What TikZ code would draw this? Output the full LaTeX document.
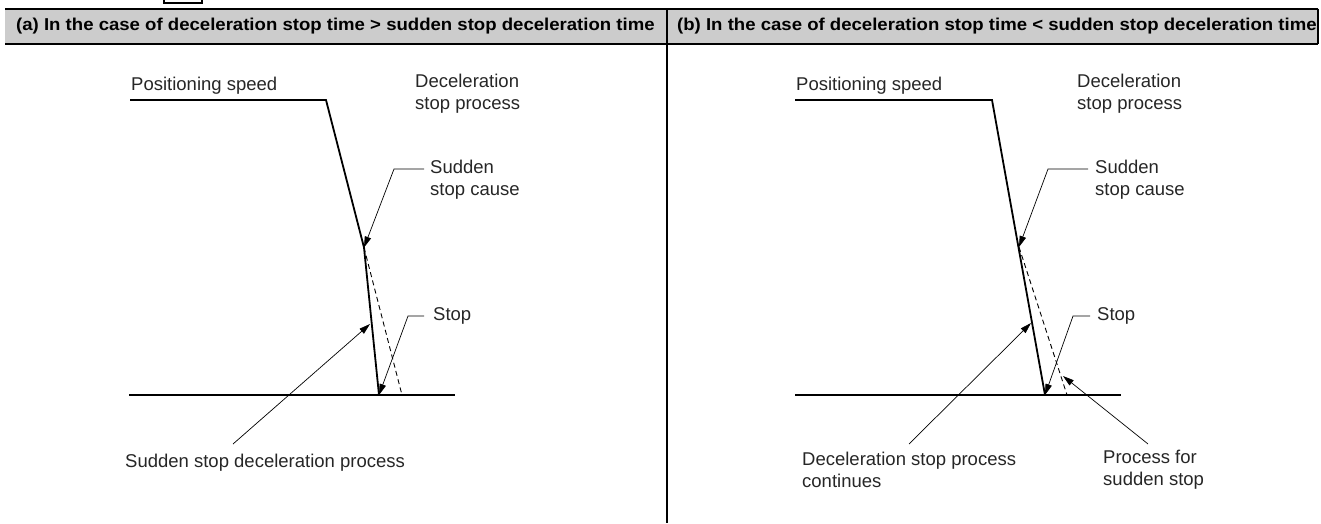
\documentclass[tikz,border=0pt]{standalone}
\usepackage{fontspec}
\setmainfont{Liberation Sans}
\usetikzlibrary{arrows.meta,calc}
\begin{document}
\begin{tikzpicture}[x=1pt,y=-1pt,
  lbl/.style={inner sep=0pt, anchor=west, align=left, text=black!85,
    font=\fontsize{18.5}{22}\selectfont},
  hdr/.style={inner sep=0pt, anchor=west, font=\fontsize{17.2}{20}\selectfont\bfseries},
  curve/.style={line width=1.8pt, line join=miter},
  axis/.style={line width=1.3pt},
  ghost/.style={line width=0.9pt, dash pattern=on 5pt off 3.5pt},
  leader/.style={line width=0.7pt, -{Triangle[length=11pt,width=6.5pt]}},
  rule/.style={line width=2pt}
]
\useasboundingbox (0,0) rectangle (1321,523);

% small tab above the header
\draw[line width=1.6pt] (164,-6) rectangle (202,3);

% header band
\fill[black!20] (5,8.5) rectangle (1318,44);
\draw[rule] (5,8.5) -- (1318,8.5);
\draw[rule] (5,44) -- (1318,44);
\draw[rule] (1318,8.5) -- (1318,44);
\draw[line width=1.5pt] (667,8.5) -- (667,523);
\node[hdr] (ha) at (16,26) {\scalebox{1.08}[1]{(a) In the case of deceleration stop time > sudden stop deceleration time}};
\node[hdr] (hb) at (677,26) {\scalebox{1.08}[1]{(b) In the case of deceleration stop time < sudden stop deceleration time}};

% ---------- panel (a) ----------
\coordinate (a0) at (130,100);
\coordinate (a1) at (326,100);
\coordinate (a2) at (364,247.5);
\coordinate (a3) at (379,395);
\coordinate (a4) at (402,395);
\coordinate (aL) at (129,395);
\coordinate (aR) at (455,395);
\coordinate (aM) at (370,324);
\draw[curve] (a0) -- (a1) -- (a2) -- (a3);
\draw[ghost] (a2) -- (a4);
\draw[axis] (aL) -- (aR);

\node[lbl] (aspd) at (131,86) {Positioning speed};
\node[lbl] (adec) at (415,94) {Deceleration\\stop process};
\node[lbl] (acause) at (430,180) {Sudden\\stop cause};
\node[lbl] (astop) at (433,316) {Stop};
\node[lbl] (asudden) at (125,463) {Sudden stop deceleration process};

\draw[leader] ($(acause.west)+(-6,-11)$) -- ++(-30,0) -- (a2);
\draw[leader] ($(astop.west)+(-9,0)$) -- ++(-16,0) -- (a3);
\draw[leader] ($(asudden.west)+(108,-19)$) -- (aM);

% ---------- panel (b) ----------
\coordinate (b0) at (795,100);
\coordinate (b1) at (992,100);
\coordinate (b2) at (1045,395);
\coordinate (bB) at (1019,247);
\coordinate (b4) at (1067,395);
\coordinate (bL) at (795,395);
\coordinate (bR) at (1121,395);
\coordinate (bM) at (1031,323);
\coordinate (bP) at (1063,376);
\draw[curve] (b0) -- (b1) -- (b2);
\draw[ghost] (bB) -- (b4);
\draw[axis] (bL) -- (bR);

\node[lbl] (bspd) at (796,86) {Positioning speed};
\node[lbl] (bdec) at (1077,94) {Deceleration\\stop process};
\node[lbl] (bcause) at (1095,180) {Sudden\\stop cause};
\node[lbl] (bstop) at (1097,316) {Stop};
\node[lbl] (bcont) at (802,470) {Deceleration stop process\\continues};
\node[lbl] (bproc) at (1103,470) {Process for\\sudden stop};

\draw[leader] ($(bcause.west)+(-7,-11)$) -- ++(-40,0) -- (bB);
\draw[leader] ($(bstop.west)+(-7,0)$) -- ++(-17,0) -- (b2);
\draw[leader] ($(bcont.west)+(107,-26)$) -- (bM);
\draw[leader] ($(bproc.west)+(45,-26)$) -- (bP);
\end{tikzpicture}
\end{document}
